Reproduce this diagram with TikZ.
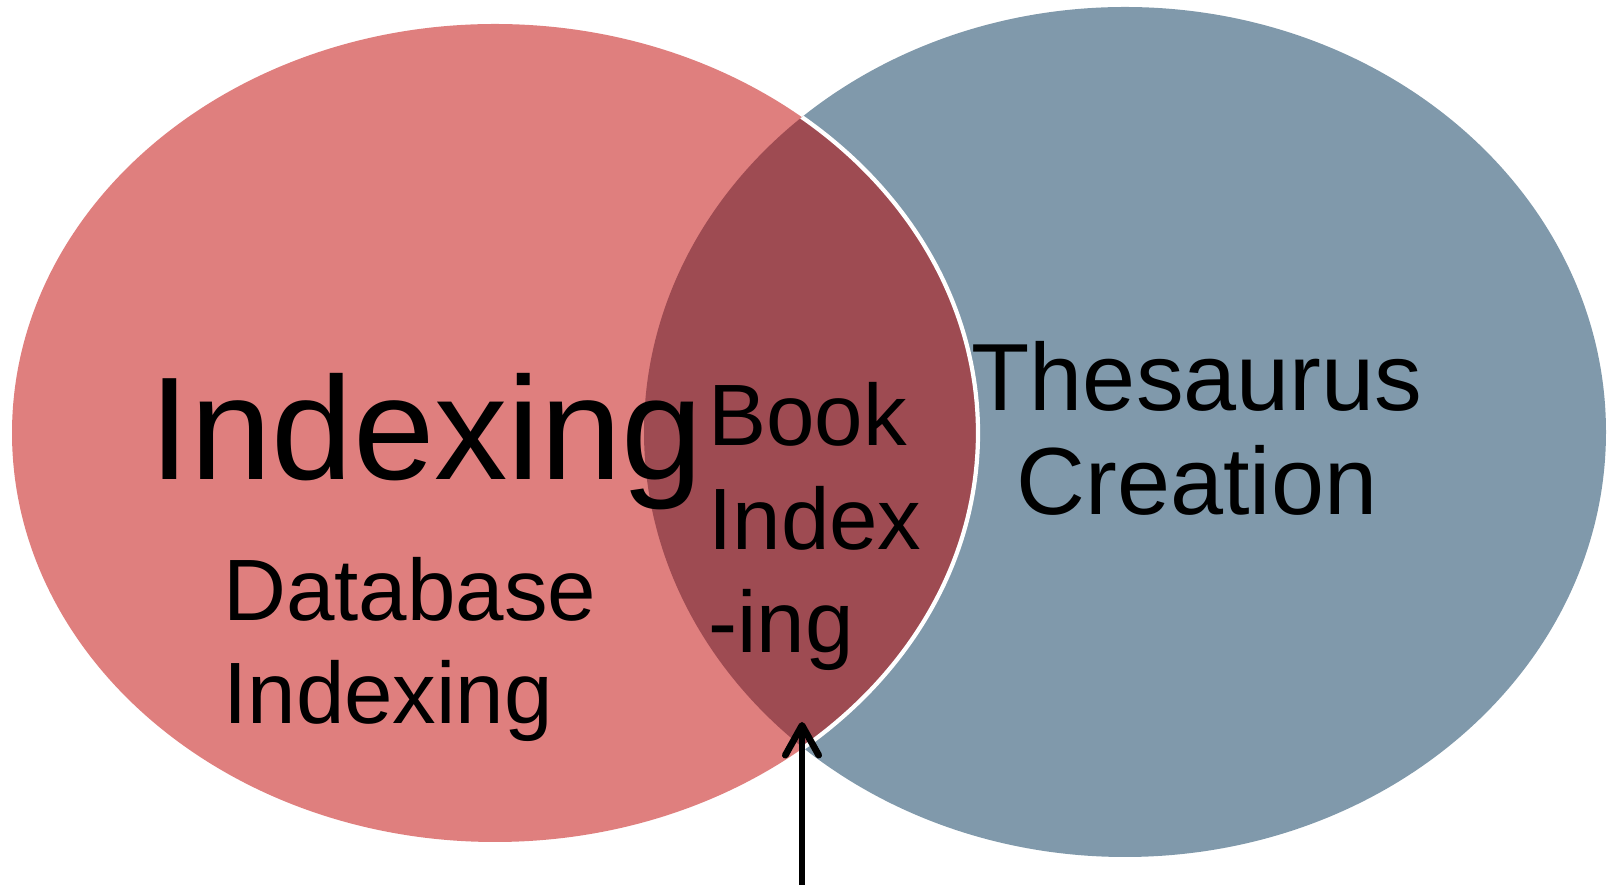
\documentclass[tikz,border=0pt]{standalone}
\usepackage{fontspec}
\setmainfont{Liberation Sans}
\usetikzlibrary{arrows.meta}

\definecolor{indexred}{HTML}{DF7F7E}
\definecolor{thesblue}{HTML}{8099AB}
\definecolor{bookred}{HTML}{9E4B52}

\begin{document}
\begin{tikzpicture}[
    x=0.02cm, y=0.02cm,
    setleft/.style={fill=indexred},
    setright/.style={fill=thesblue},
    overlap/.style={fill=bookred, draw=white, line width=2.4pt},
    bigword/.style={inner sep=0pt, font=\fontsize{83.4}{99}\selectfont},
    midword/.style={inner sep=0pt, align=left, font=\fontsize{49.6}{59}\selectfont},
    sideword/.style={inner sep=0pt, align=center, font=\fontsize{54.3}{59.7}\selectfont},
    pointer/.style={-{Straight Barb[length=17pt, width=19pt, round]}, line width=3.8pt, line cap=round}
]
\useasboundingbox (0,0) rectangle (1607,885);
%
% the two sets
\fill[setright] (1125,453) ellipse[x radius=481, y radius=425];
\fill[setleft] (495,452) ellipse[x radius=483, y radius=409];
\begin{scope}
  \clip (1125,453) ellipse[x radius=481, y radius=425];
  \filldraw[overlap] (495,452) ellipse[x radius=483, y radius=409];
\end{scope}
%
% labels (base = last line for the stacked ones)
\node[bigword, anchor=base west] (indexing) at (149,405) {Indexing};
\node[midword, anchor=base west] (dbindex) at (223,161) {Database\\Indexing};
\node[midword, anchor=base west] (bookindex) at (708,232) {Book\\Index\\-ing};
\node[sideword, anchor=base] (thesaurus) at (1197,370) {Thesaurus\\Creation};
%
% pointer into the overlap
\coordinate (arrowfoot) at (802,-20);
\coordinate (overlapbottom) at (802,163);
\draw[pointer] (arrowfoot) -- (overlapbottom);
\end{tikzpicture}
\end{document}
